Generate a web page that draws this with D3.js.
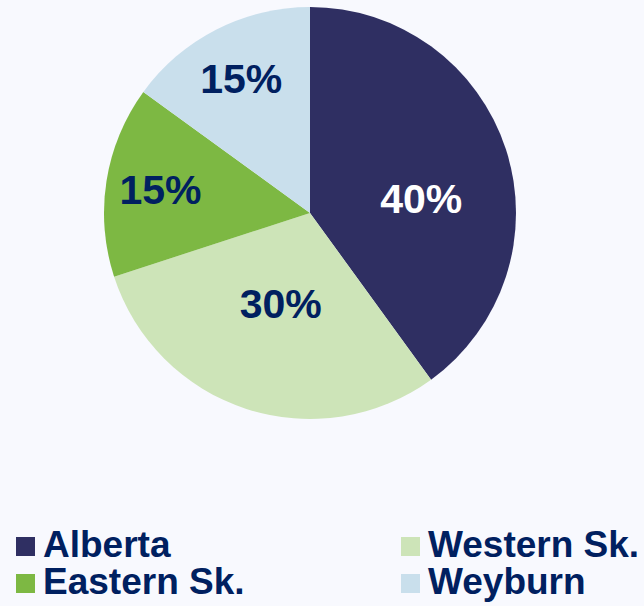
<!DOCTYPE html>
<html>
<head>
<meta charset="utf-8">
<script src="https://cdn.jsdelivr.net/npm/d3@7"></script>
<style>
  html, body { margin: 0; padding: 0; background: #F8F9FE; }
  svg { display: block; }
</style>
</head>
<body>
<svg id="chart" width="644" height="606"></svg>
<script>
const categories = ["Alberta", "Western Sk.", "Eastern Sk.", "Weyburn"];
const values = [40, 30, 15, 15];
const colors = ["#2F2F62", "#CDE4B8", "#7DB843", "#C9DFEC"];
const labelColors = ["#FFFFFF", "#002060", "#002060", "#002060"];

const W = 644, H = 606;
const cx = 310, cy = 213, R = 206;
const svg = d3.select("#chart");
svg.append("rect").attr("width", W).attr("height", H).attr("fill", "#F8F9FE");

const pie = d3.pie().sort(null).value(d => d)(values);
const arc = d3.arc().innerRadius(0).outerRadius(R);

const g = svg.append("g").attr("transform", `translate(${cx},${cy})`);
g.selectAll("path.slice").data(pie).enter().append("path")
  .attr("class", "slice")
  .attr("d", arc)
  .attr("fill", (d, i) => colors[i]);

// label placement: narrow slices further out, wide slices nearer the middle
function labelPos(d) {
  const frac = (d.endAngle - d.startAngle) / (2 * Math.PI);
  let r, a = (d.startAngle + d.endAngle) / 2;
  if (frac < 0.2) r = R * 0.735;
  else if (frac < 0.35) r = R * 0.46;
  else { r = R * 0.545; a = a + 0.18; }
  return [Math.sin(a) * r, -Math.cos(a) * r];
}

g.selectAll("text.lbl").data(pie).enter().append("text")
  .attr("class", "lbl")
  .attr("x", d => labelPos(d)[0])
  .attr("y", d => labelPos(d)[1])
  .attr("dy", "0.37em")
  .attr("text-anchor", "middle")
  .attr("font-family", "Liberation Sans, Arial, sans-serif")
  .attr("font-weight", "bold")
  .attr("font-size", 41)
  .attr("fill", (d, i) => labelColors[i])
  .text(d => d.data + "%");

// legend
const legendOrder = [0, 1, 2, 3];
const colX = [16, 401];
const rowY = [537, 574];
const leg = svg.append("g");
legendOrder.forEach((idx, k) => {
  const col = k % 2, row = Math.floor(k / 2);
  const x = colX[col], y = rowY[row];
  leg.append("rect").attr("x", x).attr("y", y).attr("width", 19).attr("height", 19)
    .attr("fill", colors[idx]);
  leg.append("text").attr("x", x + 27).attr("y", y + 20)
    .attr("font-family", "Liberation Sans, Arial, sans-serif")
    .attr("font-weight", "bold").attr("font-size", 37)
    .attr("fill", "#002060")
    .text(categories[idx]);
});
</script>
</body>
</html>
